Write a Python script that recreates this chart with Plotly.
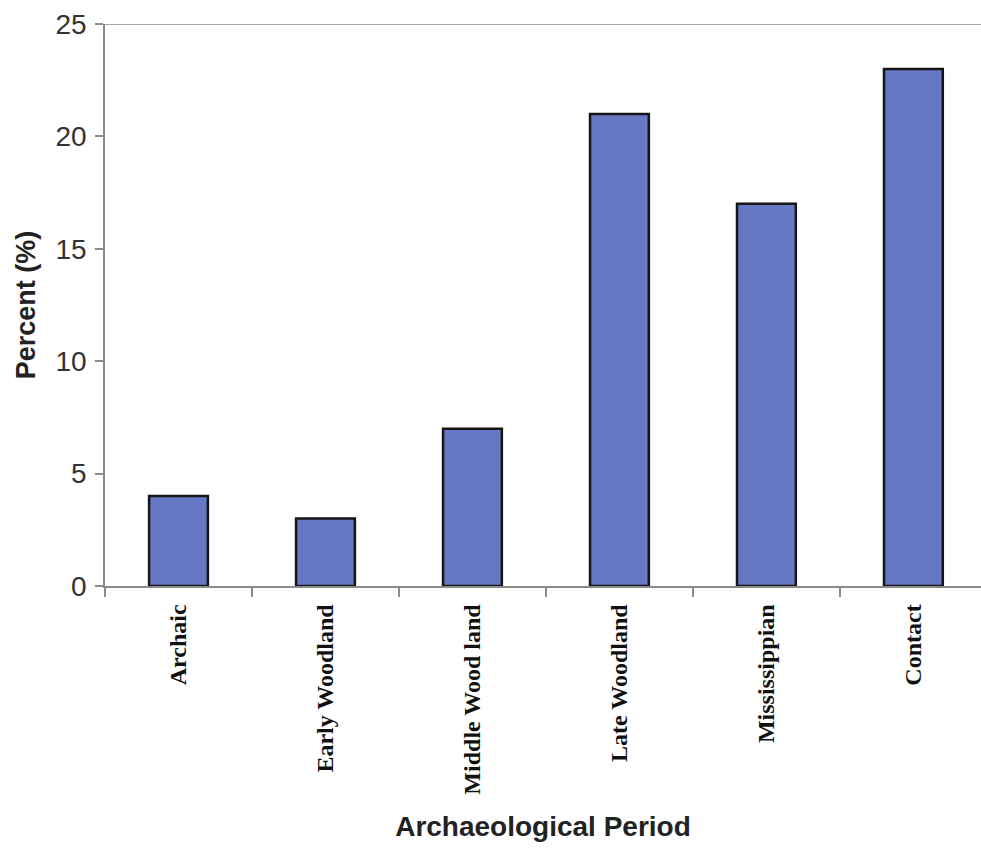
import plotly.graph_objects as go

# Share of components by archaeological period
periods = ["Archaic", "Early Woodland", "Middle Wood land", "Late Woodland", "Mississippian", "Contact"]
percent = [4, 3, 7, 21, 17, 23]
y_ticks = [0, 5, 10, 15, 20, 25]

axis_grey = "#8a8a8a"

fig = go.Figure(
    go.Bar(
        x=periods,
        y=percent,
        width=0.4,
        marker=dict(color="#6677c4", line=dict(color="#151515", width=2.5)),
    )
)

fig.update_layout(
    width=981,
    height=848,
    margin=dict(l=105, r=0, t=24, b=262),
    paper_bgcolor="white",
    plot_bgcolor="white",
    showlegend=False,
    xaxis=dict(
        range=[-0.5, 5.46],
        tickson="boundaries",
        ticks="outside",
        ticklen=9,
        tickcolor=axis_grey,
        tickwidth=1.5,
        tickangle=-90,
        ticklabelstandoff=7,
        tickfont=dict(family="Liberation Serif", size=24, color="#111111", weight="bold"),
        showline=True,
        linecolor=axis_grey,
        linewidth=1.5,
        showgrid=False,
        title=dict(
            text="<b>Archaeological Period</b>",
            font=dict(family="Liberation Sans", size=28, color="#222222"),
            standoff=23,
        ),
    ),
    yaxis=dict(
        range=[0, 25],
        tickvals=y_ticks,
        ticks="outside",
        ticklen=8,
        tickcolor=axis_grey,
        tickwidth=1.5,
        ticklabelstandoff=3,
        tickfont=dict(family="Liberation Sans", size=28, color="#333333"),
        showline=True,
        linecolor=axis_grey,
        linewidth=1.5,
        showgrid=False,
        zeroline=False,
        title=dict(
            text="<b>Percent (%)</b>",
            font=dict(family="Liberation Sans", size=27, color="#222222"),
            standoff=12,
        ),
    ),
    shapes=[
        dict(
            type="line", xref="paper", yref="y",
            x0=0, x1=1, y0=25, y1=25,
            line=dict(color=axis_grey, width=1.5),
        )
    ],
)

fig.write_html("out.html")
